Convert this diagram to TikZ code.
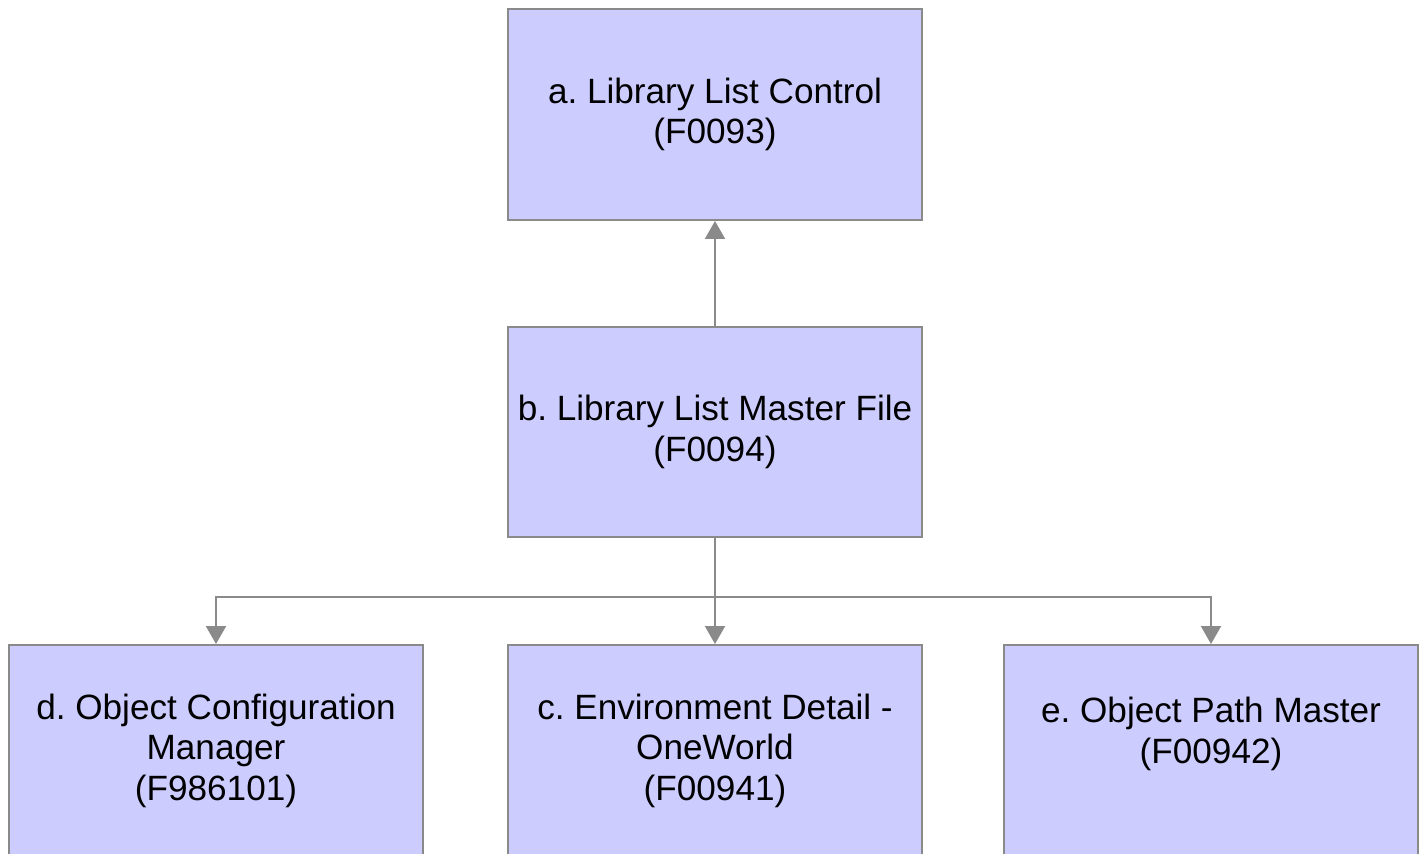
\documentclass[tikz,border=0pt]{standalone}
\usepackage{fontspec}
\setmainfont{Liberation Sans}
\usetikzlibrary{arrows.meta}
\definecolor{boxfill}{HTML}{CCCCFF}
\definecolor{boxline}{HTML}{8A8A8A}
\frenchspacing
\tikzset{
	table/.style={draw=boxline, line width=0.04cm, fill=boxfill, minimum width=8.28cm, minimum height=4.22cm, align=center, inner sep=0pt, font=\fontsize{20}{23}\selectfont},
	link/.style={draw=boxline, line width=0.04cm, -{Triangle[length=0.36cm, width=0.4cm]}}
}

\begin{document}
\begin{tikzpicture}[x=0.02cm, y=-0.02cm]
		%%%%% START %%%%%
		
		\useasboundingbox (0, 0) rectangle (1426, 853);
		
		\node[table] (a) at (715, 114.5) {a. Library List Control\\(F0093)};
		\node[table] (b) at (715, 432) {b. Library List Master File\\(F0094)};
		
		\node[table] (d) at (216, 750.5) {d. Object Configuration\\Manager\\(F986101)};
		\node[table] (c) at (715, 750.5) {c. Environment Detail -\\OneWorld\\(F00941)};
		\node[table] (e) at (1211, 750.5) {e. Object Path Master\\(F00942)\\\mbox{}};
		
		\coordinate (fork) at (715, 597);
		
		\draw[link] (b.north) -- (a.south);
		
		\draw[boxline, line width=0.04cm] (b.south) -- (fork);
		\draw[link] (fork) -| (d.north);
		\draw[link] (fork) -- (c.north);
		\draw[link] (fork) -| (e.north);
		
		%%%%% END %%%%%
	\end{tikzpicture}
\end{document}
